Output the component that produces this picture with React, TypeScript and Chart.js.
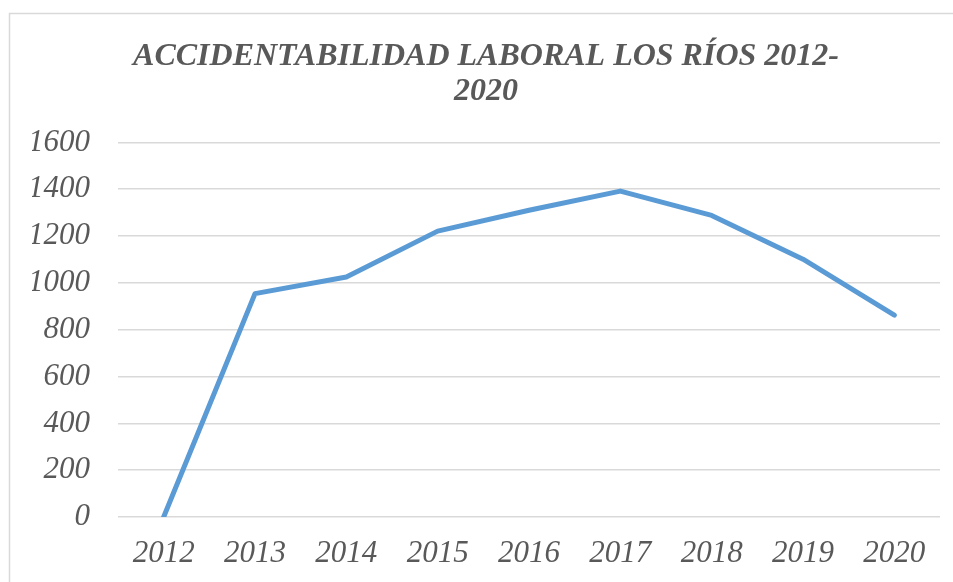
import React, { useEffect, useRef } from "react";
import { Chart, registerables } from "chart.js";

Chart.register(...registerables);

const years = ["2012", "2013", "2014", "2015", "2016", "2017", "2018", "2019", "2020"];
const accidents = [0, 954, 1025, 1221, 1310, 1392, 1288, 1101, 862];
const titleLines = ["ACCIDENTABILIDAD LABORAL LOS RÍOS 2012-", "2020"];
const yMin = 0;
const yMax = 1600;
const yStep = 200;

const borderPlugin = {
  id: "outerBorder",
  beforeDraw(chart: any) {
    const ctx = chart.ctx;
    ctx.save();
    ctx.strokeStyle = "#d9d9d9";
    ctx.lineWidth = 1.5;
    ctx.strokeRect(9.5, 13.5, chart.width + 20, chart.height + 20);
    ctx.restore();
  },
};

export default function App() {
  const ref = useRef<HTMLCanvasElement | null>(null);
  useEffect(() => {
    if (!ref.current) return;
    const chart = new Chart(ref.current, {
      type: "line",
      data: {
        labels: years,
        datasets: [
          {
            data: accidents,
            borderColor: "#5b9bd5",
            borderWidth: 5,
            pointRadius: 0,
            tension: 0,
            fill: false,
            borderCapStyle: "round",
            borderJoinStyle: "round",
          },
        ],
      },
      options: {
        animation: false,
        responsive: false,
        maintainAspectRatio: false,
        layout: { padding: { left: 32, right: 13, top: 0, bottom: 13 } },
        plugins: {
          legend: { display: false },
          tooltip: { enabled: false },
          title: {
            display: true,
            text: titleLines,
            color: "#595959",
            font: { family: "'Liberation Serif'", size: 32, weight: "bold", style: "italic", lineHeight: 1.1 },
            padding: { top: 39, bottom: 33 },
          },
        },
        scales: {
          x: {
            offset: true,
            grid: { display: false, drawTicks: false },
            border: { display: false },
            ticks: {
              color: "#595959",
              padding: 18,
              maxRotation: 0,
              autoSkip: false,
              font: { family: "'Liberation Serif'", size: 31, style: "italic" },
            },
            afterFit(scale: any) {
              scale.height = 52;
            },
          },
          y: {
            min: yMin,
            max: yMax,
            grid: { color: "#d9d9d9", lineWidth: 1.5, drawTicks: false },
            border: { display: false },
            ticks: {
              stepSize: yStep,
              color: "#595959",
              padding: 28,
              font: { family: "'Liberation Serif'", size: 31, style: "italic" },
              callback: (v: any) => String(v),
            },
            afterFit(scale: any) {
              scale.width = 86;
            },
          },
        },
      },
      plugins: [borderPlugin],
    });
    return () => chart.destroy();
  }, []);
  return (
    <div style={{ position: "absolute", left: 0, top: 0, width: 953, height: 582, background: "#fff", overflow: "hidden" }}>
      <canvas ref={ref} width={953} height={582} style={{ display: "block" }} />
    </div>
  );
}
